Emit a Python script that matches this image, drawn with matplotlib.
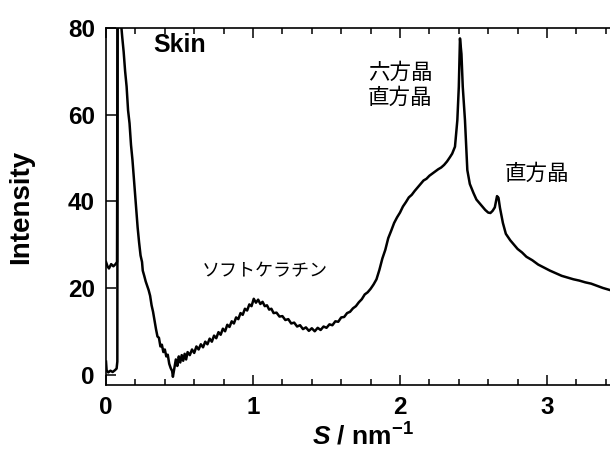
import numpy as np                # Matrise pakke
import matplotlib
matplotlib.use('Agg')
import matplotlib.pyplot as plt   # Plottepakke
from matplotlib.ticker import MultipleLocator


# Data (S in nm^-1, intensity in a.u.)
s_beam = [0.000, 0.004, 0.015, 0.030, 0.045, 0.060, 0.072, 0.077, 0.079]
i_beam = [3.0, 1.0, 0.5, 0.9, 0.6, 1.0, 1.4, 3.0, 95.0]

s_skin = [0.000, 0.010, 0.020, 0.035, 0.050, 0.065, 0.075, 0.079, 0.090,
          0.100, 0.110, 0.120, 0.130, 0.140, 0.150, 0.160, 0.170, 0.180, 0.190,
          0.200, 0.215, 0.225, 0.235, 0.245, 0.250, 0.260, 0.270, 0.280, 0.290,
          0.300, 0.310, 0.320, 0.330, 0.340, 0.350, 0.360, 0.370, 0.380, 0.390,
          0.400, 0.410, 0.420, 0.430, 0.440, 0.450, 0.455, 0.465, 0.475, 0.485,
          0.495, 0.505, 0.515, 0.525, 0.535, 0.545, 0.555, 0.570, 0.585, 0.600,
          0.615, 0.630, 0.645, 0.660, 0.675, 0.690, 0.705, 0.720, 0.735, 0.750,
          0.765, 0.780, 0.795, 0.810, 0.825, 0.840, 0.855, 0.870, 0.885, 0.900,
          0.915, 0.930, 0.945, 0.960, 0.975, 0.990, 1.005, 1.020, 1.035, 1.050,
          1.065, 1.080, 1.095, 1.110, 1.125, 1.140, 1.160, 1.180, 1.200, 1.220,
          1.240, 1.260, 1.280, 1.300, 1.320, 1.340, 1.360, 1.380, 1.400, 1.420,
          1.440, 1.460, 1.480, 1.500, 1.520, 1.540, 1.560, 1.580, 1.600, 1.620,
          1.640, 1.660, 1.680, 1.700, 1.720, 1.740, 1.760, 1.780, 1.800, 1.820,
          1.840, 1.860, 1.880, 1.900, 1.920, 1.940, 1.960, 1.980, 2.000, 2.020,
          2.040, 2.060, 2.080, 2.100, 2.120, 2.140, 2.160, 2.180, 2.200, 2.220,
          2.240, 2.260, 2.280, 2.300, 2.320, 2.340, 2.355, 2.374, 2.390, 2.400,
          2.408, 2.418, 2.427, 2.442, 2.458, 2.475, 2.500, 2.520, 2.540, 2.560,
          2.580, 2.600, 2.615, 2.630, 2.645, 2.660, 2.670, 2.680, 2.700, 2.720,
          2.750, 2.780, 2.800, 2.830, 2.860, 2.900, 2.940, 2.980, 3.020, 3.060,
          3.100, 3.140, 3.180, 3.220, 3.260, 3.300, 3.340, 3.380, 3.430, 3.480]
i_skin = [26.0, 25.0, 24.5, 25.5, 25.0, 25.5, 26.0, 95.0, 98.0,
          82.0, 78.0, 74.5, 70.0, 66.5, 61.0, 58.0, 53.0, 49.5, 45.0,
          40.5, 34.0, 30.5, 27.5, 26.0, 24.0, 22.8, 21.5, 20.5, 19.5,
          18.2, 16.0, 14.5, 12.5, 10.5, 8.8, 8.5, 6.5, 6.9, 5.2,
          5.8, 4.2, 4.6, 2.5, 1.5, 0.8, -0.5, 1.5, 3.5, 2.0,
          4.2, 2.8, 4.5, 3.2, 4.8, 3.5, 5.2, 4.5, 5.8, 5.0,
          6.5, 5.8, 7.0, 6.3, 7.6, 7.0, 8.3, 7.6, 9.0, 8.4,
          9.8, 9.2, 10.6, 10.0, 11.5, 11.0, 12.3, 11.8, 13.2, 12.8,
          14.2, 13.8, 15.2, 14.8, 16.2, 15.8, 17.5, 16.6, 17.3, 16.3,
          16.8, 15.8, 16.0, 15.0, 15.2, 14.2, 14.3, 13.4, 13.5, 12.6,
          12.8, 11.8, 12.0, 11.1, 11.4, 10.5, 10.9, 10.1, 10.7, 10.0,
          10.8, 10.3, 11.1, 10.8, 11.6, 11.4, 12.3, 12.2, 13.2, 13.3,
          14.2, 14.5, 15.3, 15.8, 16.7, 17.4, 18.5, 19.0, 19.8, 20.8,
          22.0, 24.2, 26.8, 28.8, 31.5, 33.2, 35.0, 36.3, 37.4, 38.8,
          39.8, 40.9, 41.5, 42.4, 43.2, 44.0, 44.8, 45.2, 45.9, 46.4,
          46.9, 47.4, 47.8, 48.4, 49.2, 50.2, 51.0, 52.6, 58.7, 66.4,
          77.6, 74.0, 66.4, 58.7, 47.2, 44.0, 41.9, 40.4, 39.6, 38.8,
          38.0, 37.4, 37.3, 37.8, 38.6, 41.2, 40.8, 38.5, 35.0, 32.5,
          31.0, 29.8, 29.0, 28.2, 27.2, 26.4, 25.4, 24.7, 24.0, 23.4,
          22.8, 22.4, 22.0, 21.7, 21.3, 21.0, 20.5, 20.0, 19.5, 19.0]

x_ticks = [0, 1, 2, 3]
y_ticks = [0, 20, 40, 60, 80]

# Fonts: Arial-like bold for axes, Japanese font for the labels in the plot
plt.rcParams['font.family'] = ['Liberation Sans', 'DejaVu Sans']
plt.rcParams['mathtext.fontset'] = 'custom'
plt.rcParams['mathtext.it'] = 'Liberation Sans:italic:bold'
plt.rcParams['mathtext.bf'] = 'Liberation Sans:bold'
plt.rcParams['mathtext.rm'] = 'Liberation Sans:bold'
jp_font = ['Noto Sans CJK JP', 'DejaVu Sans']

fig = plt.figure(figsize=(6.1, 4.59), dpi=100)
ax = fig.add_axes([0.1738, 0.1612, 0.8434, 0.7778])   # right edge is cut off like in the original

ax.plot(s_beam, i_beam, color='black', lw=1.8)
ax.plot(s_skin, i_skin, color='black', lw=1.8)

ax.set_xlim(0, 3.5)
ax.set_ylim(-2.4, 80)
ax.set_xticks(x_ticks)
ax.set_yticks(y_ticks)
ax.xaxis.set_minor_locator(MultipleLocator(0.2))
ax.tick_params(axis='both', which='major', direction='in', length=7, width=1.1,
               top=True, right=True, labelsize=17.5, pad=8)
ax.tick_params(axis='x', which='minor', direction='in', length=4, width=1.1, top=True)
for lab in ax.get_xticklabels() + ax.get_yticklabels():
    lab.set_fontweight('bold')
for sp in ax.spines.values():
    sp.set_linewidth(1.2)

ax.set_ylabel('Intensity', fontsize=20, fontweight='bold', labelpad=24)
ax.set_xlabel(r'$\mathit{S}$ / nm$^{\mathrm{-1}}$', fontsize=19, fontweight='bold', labelpad=3)

# Annotations
ax.text(0.32, 76, 'Skin', fontsize=18, fontweight='bold', ha='left', va='center')
ax.text(2.0, 69.7, '六方晶', family=jp_font, fontsize=15.5, ha='center', va='center')
ax.text(2.0, 63.9, '直方晶', family=jp_font, fontsize=15.5, ha='center', va='center')
ax.text(2.93, 46.4, '直方晶', family=jp_font, fontsize=15.5, ha='center', va='center')
ax.text(1.08, 23.8, 'ソフトケラチン', family=jp_font, fontsize=13, ha='center', va='center')

plt.savefig('out.png', dpi=100)
